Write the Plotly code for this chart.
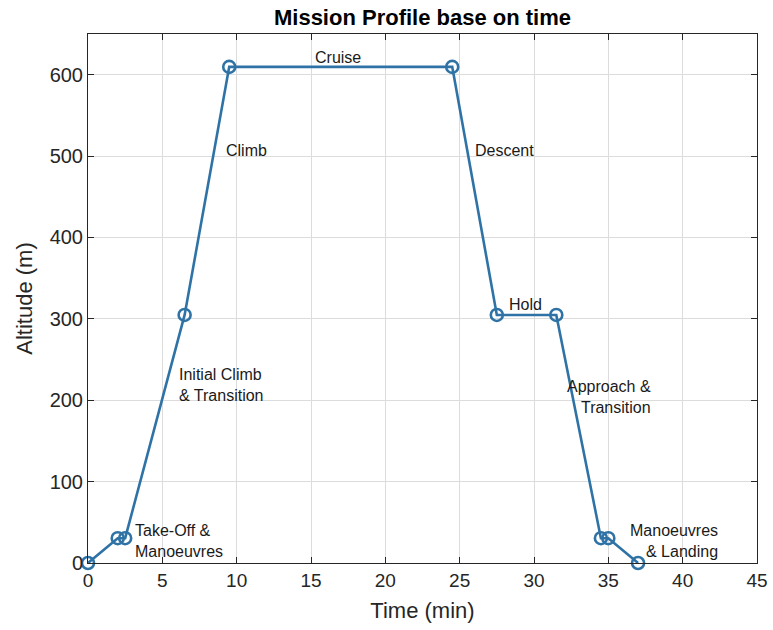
import plotly.graph_objects as go

# Mission profile: time (min) vs altitude (m)
time_min = [0, 2, 2.5, 6.5, 9.5, 24.5, 27.5, 31.5, 34.5, 35, 37]
altitude_m = [0, 30.48, 30.48, 304.8, 609.6, 609.6, 304.8, 304.8, 30.48, 30.48, 0]

# Phase labels: text, x, y, alignment
phase_text = ["Take-Off &<br>Manoeuvres", "Initial Climb<br>& Transition", "Climb", "Cruise",
              "Descent", "Hold", "Approach &<br>Transition", "Manoeuvres<br>& Landing"]
phase_x = [3.0, 6.0, 9.15, 16.8, 25.9, 28.2, 38.0, 42.5]
phase_y = [27, 219, 507, 621, 507, 318, 204, 27]
phase_align = ["left", "left", "left", "center", "left", "left", "right", "right"]

LINE = "#2f73a6"
AX = "#262626"
FONT = "Liberation Sans, Arial, sans-serif"

fig = go.Figure()
fig.add_trace(go.Scatter(
    x=time_min, y=altitude_m, mode="lines+markers",
    line=dict(color=LINE, width=2.6),
    marker=dict(symbol="circle-open", size=12, color=LINE, line=dict(width=2.6, color=LINE)),
    showlegend=False, cliponaxis=False,
))

for t, x, y, a in zip(phase_text, phase_x, phase_y, phase_align):
    fig.add_annotation(x=x, y=y, text=t, showarrow=False, xanchor=a, yanchor="middle",
                       align=a, font=dict(family=FONT, size=16, color="#1a1a1a"))

axis_common = dict(
    showgrid=True, gridcolor="#dcdcdc", gridwidth=1,
    showline=True, linecolor=AX, linewidth=1, mirror="allticks",
    ticks="inside", ticklen=6, tickcolor=AX, zeroline=False,
)

fig.update_xaxes(range=[0, 45], tickvals=list(range(0, 46, 5)),
                 tickfont=dict(family=FONT, size=19, color=AX),
                 title=dict(text="Time (min)", font=dict(family=FONT, size=22, color=AX), standoff=12),
                 **axis_common)
fig.update_yaxes(range=[0, 650], tickvals=list(range(0, 601, 100)),
                 tickfont=dict(family=FONT, size=20, color=AX),
                 title=dict(text="Altitude (m)", font=dict(family=FONT, size=22, color=AX), standoff=10),
                 **axis_common)

fig.update_layout(
    width=773, height=630,
    margin=dict(l=88, r=16, t=34, b=67, autoexpand=False),
    paper_bgcolor="white", plot_bgcolor="white",
    title=dict(text="<b>Mission Profile base on time</b>", x=(88 + 757) / 2 / 773, xanchor="center",
               y=1 - 17 / 630, yanchor="middle",
               font=dict(family=FONT, size=22, color="#000000")),
)

fig.write_html("out.html")
